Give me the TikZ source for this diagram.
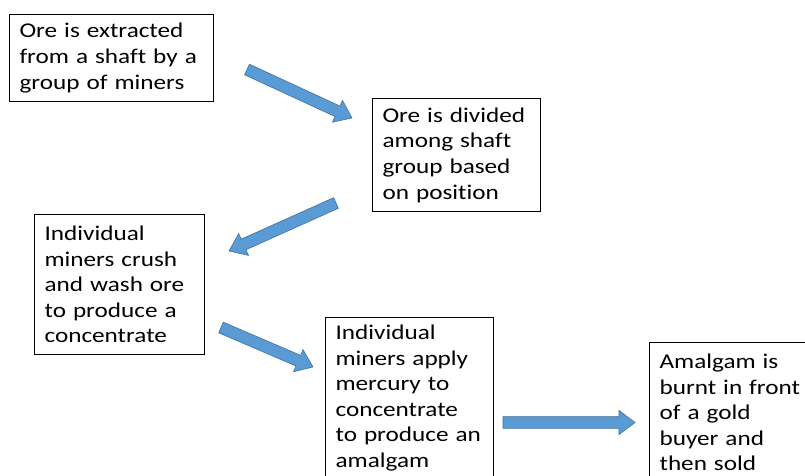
\documentclass[tikz,border=0pt]{standalone}
\usepackage{fontspec}
\setmainfont{Carlito}[FakeStretch=1.2, Ligatures=NoCommon]
\usetikzlibrary{calc}
\definecolor{arrfill}{HTML}{5B9BD5}
\definecolor{arrline}{HTML}{41719C}
\tikzset{
  box/.style={draw=black, line width=1.1pt, anchor=north west, align=left,
    inner xsep=10pt, inner ysep=0pt,
    font=\fontsize{21}{25.6}\selectfont},
  blockarrow/.style={fill=arrfill, draw=arrline, line width=0.6pt, line join=miter}
}
\newcommand\barrow[2]{%
  \path[blockarrow] let \p1=($(#2)-(#1)$), \n1={atan2(\y1,\x1)}, \n2={veclen(\x1,\y1)} in
   [shift={(#1)}, rotate=\n1, x=1pt, y=1pt]
   (0,-5.8) -- ({\n2-16},-5.8) -- ({\n2-16},-12) -- (\n2,0) -- ({\n2-16},12) -- ({\n2-16},5.8) -- (0,5.8) -- cycle;}
\begin{document}
\begin{tikzpicture}[x=1pt, y=-1pt]
\path[use as bounding box] (0,0) rectangle (805,476);
\clip (0,0) rectangle (805,476);
\fill[white] (0,0) rectangle (805,476);

\node[box, text width=184pt, minimum height=87pt] (b1) at (9,14)
  {\mbox{Ore is extracted}\\\mbox{from a shaft by a}\\\mbox{group of miners}};
\node[box, text width=148pt, minimum height=113pt] (b2) at (372,98)
  {\mbox{Ore is divided}\\\mbox{among shaft}\\\mbox{group based}\\\mbox{on position}};
\node[box, text width=150pt, minimum height=140pt] (b3) at (34,214)
  {\mbox{Individual}\\\mbox{miners crush}\\\mbox{and wash ore}\\\mbox{to produce a}\\\mbox{concentrate}};
\node[box, text width=148pt, minimum height=161pt] (b4) at (325,317)
  {\mbox{Individual}\\\mbox{miners apply}\\\mbox{mercury to}\\\mbox{concentrate}\\\mbox{to produce an}\\\mbox{amalgam}};
\node[box, text width=150pt, minimum height=140pt] (b5) at (649,342)
  {\mbox{Amalgam is}\\\mbox{burnt in front}\\\mbox{of a gold}\\\mbox{buyer and}\\\mbox{then sold}};

\coordinate (a1s) at (247,69.5);
\coordinate (a1e) at (352,118);
\coordinate (a2s) at (336,203);
\coordinate (a2e) at (229,251);
\coordinate (a3s) at (221,327.5);
\coordinate (a3e) at (313,367);
\coordinate (a4s) at (503,422.5);
\coordinate (a4e) at (635,422.5);

\barrow{a1s}{a1e}
\barrow{a2s}{a2e}
\barrow{a3s}{a3e}
\barrow{a4s}{a4e}
\end{tikzpicture}
\end{document}
